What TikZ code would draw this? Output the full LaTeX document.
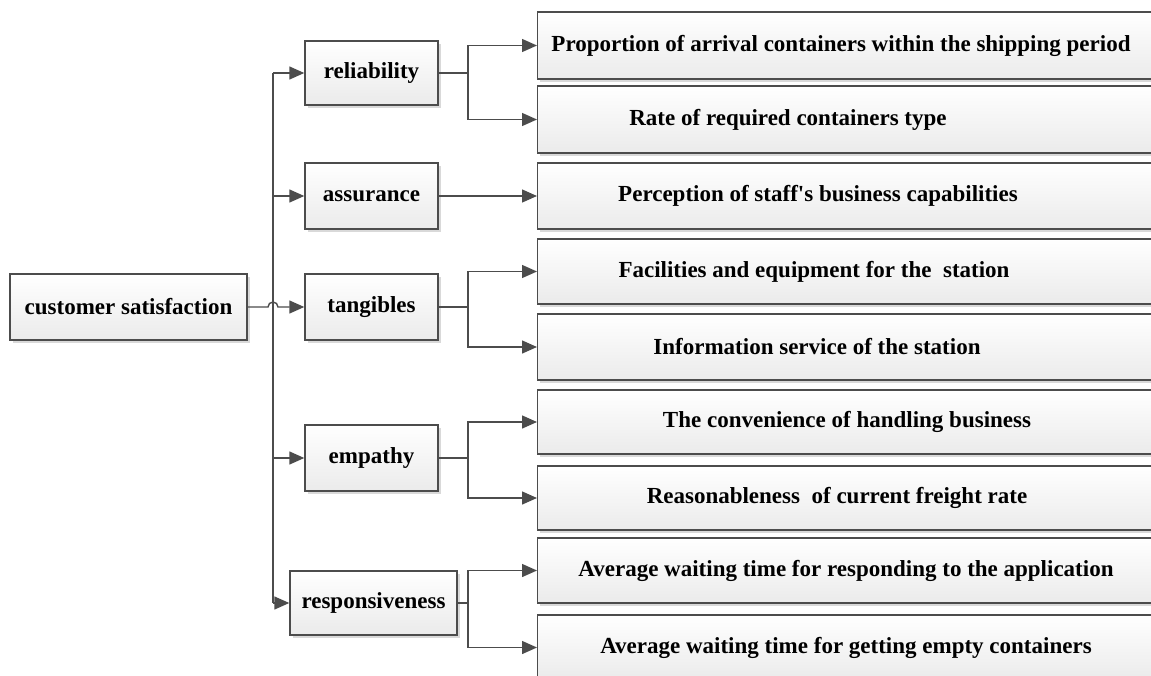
\documentclass[tikz,border=0pt]{standalone}
\usepackage{fontspec}
\setmainfont{Liberation Serif}
\usepackage{tikz}
\usetikzlibrary{positioning,%
  arrows.meta,%
  shadows,%
  calc
}

\tikzset{
  box/.style={draw=black!70, line width=1.4pt, top color=white, bottom color=black!8,
    drop shadow={shadow xshift=2.5pt, shadow yshift=-2.5pt, fill=black!15, opacity=1},
    inner sep=0pt, font=\fontsize{23}{25}\selectfont\bfseries},
  leaf/.style={box, anchor=west, minimum width=640pt, minimum height=66pt},
  mid/.style={box, minimum width=133pt, minimum height=64pt},
  word/.style={inner sep=0pt, font=\fontsize{23}{25}\selectfont\bfseries},
  conn/.style={draw=black!70, line width=1.4pt},
  arr/.style={conn, -{Triangle[length=15pt,width=13pt]}}
}

\begin{document}
\begin{tikzpicture}[x=1pt,y=-1pt]
            \useasboundingbox (0,0) rectangle (1151,675);
            \clip (0,0) rectangle (1151,675);

            % first level
            \node[box, minimum width=237pt, minimum height=66pt] (cs) at (128.5,307) {customer satisfaction};

            \node[mid] (rel) at (371.5,73) {reliability};
            \node[mid, minimum height=66pt] (ass) at (371.5,196) {assurance};
            \node[mid, minimum height=66pt] (tan) at (371.5,307) {tangibles};
            \node[mid, minimum height=66pt] (emp) at (371.5,458) {empathy};
            \node[mid, minimum width=167pt] (res) at (373.5,603) {responsiveness};

            % indicators
            \node[leaf, minimum height=67pt] (l1) at (537,45.5) {};
            \node[leaf, minimum height=67pt] (l2) at (537,119.5) {};
            \node[leaf] (l3) at (537,196) {};
            \node[leaf, minimum height=65pt] (l4) at (537,271.5) {};
            \node[leaf] (l5) at (537,347) {};
            \node[leaf, minimum height=64pt] (l6) at (537,422) {};
            \node[leaf, minimum height=64pt] (l7) at (537,498) {};
            \node[leaf, minimum height=65pt] (l8) at (537,570.5) {};
            \node[leaf, minimum height=65pt] (l9) at (537,647.5) {};

            \node[word] (t1) at (841,45.5) {Proportion of arrival containers within the shipping period};
            \node[word] (t2) at (788,119.5) {Rate of required containers type};
            \node[word] (t3) at (818,196) {Perception of staff\textquotesingle s business capabilities};
            \node[word] (t4) at (814,271.5) {Facilities and equipment for the\ \ station};
            \node[word] (t5) at (817,347) {Information service of the station};
            \node[word] (t6) at (847,422) {The convenience of handling business};
            \node[word] (t7) at (837,498) {Reasonableness\ \ of current freight rate};
            \node[word] (t8) at (846,570.5) {Average waiting time for responding to the application};
            \node[word] (t9) at (846,647.5) {Average waiting time for getting empty containers};

            \coordinate (tr) at (273,0);
            \coordinate (br) at (468,0);

            % trunk with line jump
            \draw[conn] (rel.west -| tr) -- (res.west -| tr);
            \draw[arr] (cs.east) -- ($(cs.east -| tr)+(-5,0)$) arc (180:360:5) -- (tan.west);
            \draw[arr] (rel.west -| tr) -- (rel.west);
            \draw[arr] (ass.west -| tr) -- (ass.west);
            \draw[arr] (emp.west -| tr) -- (emp.west);
            \draw[arr] (res.west -| tr) -- (res.west);

            % branches
            \draw[conn] (rel.east) -- (rel.east -| br);
            \draw[arr] (rel.east -| br) |- (l1.west);
            \draw[arr] (rel.east -| br) |- (l2.west);
            \draw[arr] (ass.east) -- (l3.west);
            \draw[conn] (tan.east) -- (tan.east -| br);
            \draw[arr] (tan.east -| br) |- (l4.west);
            \draw[arr] (tan.east -| br) |- (l5.west);
            \draw[conn] (emp.east) -- (emp.east -| br);
            \draw[arr] (emp.east -| br) |- (l6.west);
            \draw[arr] (emp.east -| br) |- (l7.west);
            \draw[conn] (res.east) -- (res.east -| br);
            \draw[arr] (res.east -| br) |- (l8.west);
            \draw[arr] (res.east -| br) |- (l9.west);
        \end{tikzpicture}
\end{document}
